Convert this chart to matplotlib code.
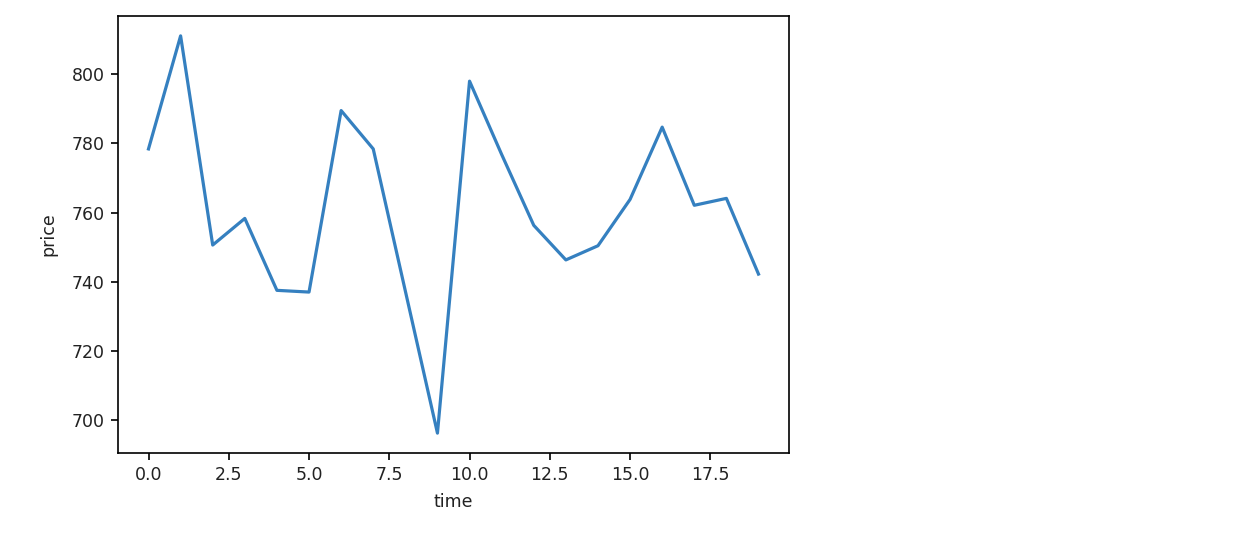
import matplotlib
matplotlib.use("Agg")
import matplotlib.pyplot as plt

time = list(range(20))
price = [778.4, 811.1, 750.6, 758.3, 737.5, 737.0, 789.5, 778.4, 737.3, 696.2,
         798.0, 776.8, 756.3, 746.3, 750.4, 763.8, 784.7, 762.1, 764.1, 742.2]

fig = plt.figure(figsize=(12.58, 5.46), dpi=100)
ax = fig.add_axes([118/1258, 1-453/546, (789-118)/1258, (453-16)/546])
ax.plot(time, price, color='#3580c0', lw=2.3)
ax.set_xlabel('time', fontsize=12.5, color='#222222', labelpad=6)
ax.set_ylabel('price', fontsize=12.5, color='#222222', labelpad=10)
ax.tick_params(labelsize=12.5, length=5, width=1.2, labelcolor='#222222', pad=4.5)
for s in ax.spines.values():
    s.set_linewidth(1.2)
fig.savefig('out.png', dpi=100)
